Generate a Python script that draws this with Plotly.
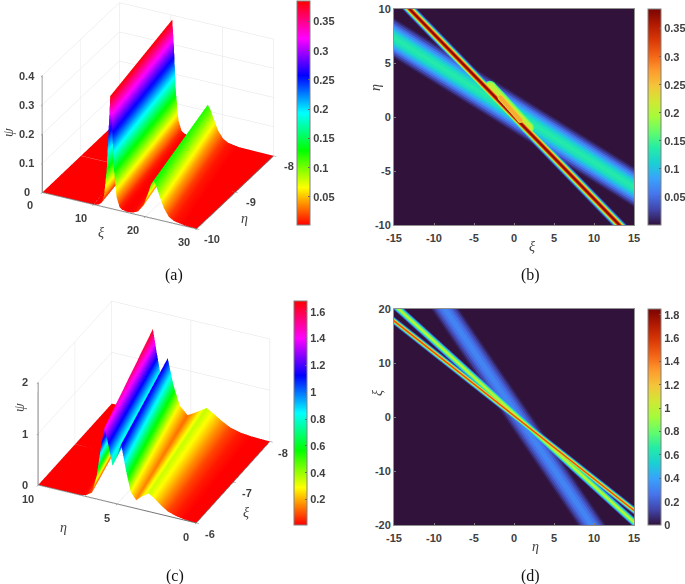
import plotly.graph_objects as go
from plotly.colors import sample_colorscale

W, H = 685, 584

### PANEL (a) surface profiles: psi along xi, read at the front and back edge ###
a_eta = [-10, -8]
a_xi_front = [0, 10, 11, 11.5, 12, 12.5, 12.9, 13.2, 13.5, 13.9, 14.4, 15, 15.5, 16.5, 17.6, 18.6, 19.6, 20.6, 21.1, 21.6, 22.1, 22.6, 23.6, 24.6, 25.6, 27.6, 30]
a_xi_back = [0, 7.1, 8.1, 8.6, 9.1, 9.6, 10, 10.3, 10.6, 11, 11.5, 12.1, 12.6, 13.2, 14, 14.6, 15.2, 16.2, 16.7, 17.2, 17.7, 18.2, 19.2, 20.2, 21.2, 23.2, 30]
a_psi_front = [0, 0, 0.004, 0.012, 0.04, 0.13, 0.28, 0.385, 0.3, 0.14, 0.045, 0.012, 0.005, 0.002, 0.004, 0.012, 0.035, 0.085, 0.115, 0.13, 0.115, 0.09, 0.045, 0.018, 0.008, 0.002, 0]
a_psi_back = [0, 0, 0.004, 0.012, 0.04, 0.13, 0.28, 0.385, 0.3, 0.14, 0.045, 0.012, 0.005, 0.002, 0.004, 0.012, 0.035, 0.08, 0.108, 0.122, 0.108, 0.085, 0.042, 0.018, 0.008, 0.002, 0]

### PANEL (c) surface profiles: psi along eta ###
c_xi = [-6, -8]
c_eta_front = [10, 7.4, 7, 6.6, 6.3, 6.0, 5.8, 5.55, 5.3, 5.05, 4.75, 4.45, 4.15, 3.8, 3.4, 3.0, 2.6, 2.2, 1.8, 1.3, 0.8, 0]
c_eta_back = [10, 9.0, 8.6, 8.2, 7.9, 7.6, 7.4, 7.15, 6.9, 6.7, 6.46, 6.1, 5.7, 5.2, 4.6, 4.0, 3.5, 3.0, 2.5, 1.9, 1.2, 0]
c_psi_front = [0, 0.005, 0.02, 0.1, 0.45, 1.1, 1.43, 1.1, 0.72, 0.9, 1.18, 0.7, 0.3, 0.16, 0.27, 0.35, 0.27, 0.17, 0.09, 0.04, 0.015, 0.002]
c_psi_back = [0, 0.005, 0.02, 0.1, 0.45, 1.2, 1.65, 1.2, 0.78, 0.95, 1.15, 0.65, 0.28, 0.13, 0.24, 0.36, 0.27, 0.17, 0.09, 0.04, 0.015, 0.002]

### tick labels of the 3D panels ###
a_xi_ticks = [0, 10, 20, 30]
a_eta_ticks = [-10, -9, -8]
a_psi_ticks = [0, 0.1, 0.2, 0.3, 0.4]
c_eta_ticks = [10, 5, 0]
c_xi_ticks = [-6, -7, -8]
c_psi_ticks = [0, 1, 2]

### PANEL (b) ridge lines (xi, eta) and cross-section levels ###
b_ridge1_x = [-20, 20]
b_ridge1_y = [15.3, -15.2]
b_ridge1_levels = [0.01, 0.03, 0.06, 0.1, 0.15, 0.2, 0.25, 0.3, 0.34, 0.38]
b_ridge2_x = [-20, 20]
b_ridge2_y = [9.6, -8.8]
b_ridge2_levels = [0.004, 0.015, 0.03, 0.05, 0.07, 0.09, 0.11, 0.125, 0.135]
# the glow where the two ridges meet: wide part under the ridge, short part over its core
b_glow_x = [-3.0, 1.8]
b_glow_y = [2.8, -1.0]
b_glow_levels = [0.15, 0.18, 0.21]
b_core_x = [-1.7, 0.8]
b_core_y = [1.8, -0.3]
b_core_levels = [0.23, 0.265]

### PANEL (d) ridge lines (eta, xi) ###
d_ridge1_x = [-20, 20]
d_ridge1_y = [23.65, -23.15]
d_ridge1_levels = [0.05, 0.2, 0.4, 0.7, 1.0, 1.3, 1.52]
d_ridge2_x = [-20, 20]
d_ridge2_y = [27.5, -26.2]
d_ridge2_levels = [0.05, 0.2, 0.4, 0.6, 0.8, 1.0]
d_ridge3_x = [-13.2, 14.3]
d_ridge3_y = [30, -30]
d_ridge3_levels = [0.02, 0.07, 0.13, 0.2, 0.26, 0.31]

# line widths (px) that go with the levels above
b_ridge1_widths = [11, 10, 9, 8, 7, 6, 5, 4, 3, 1.6]
b_ridge2_widths = [35, 32, 29, 25, 21, 17, 13, 9, 4]
b_glow_widths = [12, 10, 8]
b_core_widths = [5.5, 4]
d_ridge1_widths = [7, 6, 5, 4, 3, 2, 1.2]
d_ridge2_widths = [8, 7, 6, 5, 3.5, 2]
d_ridge3_widths = [24, 21, 18, 14, 10, 5]

RAINBOW = [[0, "#ff0000"], [1 / 6, "#ffff00"], [1 / 3, "#00ff00"], [1 / 2, "#00ffff"],
           [2 / 3, "#0000ff"], [5 / 6, "#ff00ff"], [1, "#ff0000"]]
GRAY = "#404040"
TICKFONT = dict(family="Liberation Sans", size=11, color=GRAY, weight="bold")
B_MAX = 0.385
D_MAX = 1.85

fig = go.Figure()


def px_x(x):
    return x / W


def px_y(y):
    return 1 - y / H


def colorbar(left, top, bottom, tickvals):
    return dict(thickness=13, thicknessmode="pixels", len=bottom - top, lenmode="pixels",
                x=px_x(left), xanchor="left", xpad=0, y=px_y(top), yanchor="top", ypad=0,
                outlinecolor="#808080", outlinewidth=1, tickvals=tickvals, ticktext=[str(t) for t in tickvals],
                ticks="inside", ticklen=2, tickcolor="#606060", tickfont=TICKFONT)


def surface(scene, xs, ys, zs, cmin, cmax, cbar):
    fig.add_trace(go.Surface(
        x=xs, y=ys, z=zs, scene=scene, colorscale=RAINBOW, cmin=cmin, cmax=cmax, colorbar=cbar,
        lighting=dict(ambient=1, diffuse=0, specular=0, roughness=1, fresnel=0),
        hoverinfo="skip",
    ))


def scene_axis(rng, vals):
    return dict(range=rng, tickvals=vals, title=dict(text=""), showticklabels=False,
                showgrid=True, gridcolor="#e4e4e4", gridwidth=1, zeroline=False,
                showline=True, linecolor="#707070", linewidth=2, ticks="outside", ticklen=3, tickcolor="#707070",
                showbackground=False, showspikes=False)


def tick_note(x, y, z, text, dx, dy):
    # 3D tick label, anchored to the scene and pushed off the axis in pixels
    return dict(x=x, y=y, z=z, text=str(text), showarrow=False, xshift=dx, yshift=-dy, font=TICKFONT)


def add_layer(xaxis, yaxis, vmax, v, w, xs, ys, mode="lines"):
    col = sample_colorscale("Turbo", [v / vmax])[0]
    fig.add_trace(go.Scatter(x=xs, y=ys, mode=mode, xaxis=xaxis, yaxis=yaxis,
                             line=dict(color=col, width=w), marker=dict(color=col, size=w),
                             hoverinfo="skip", showlegend=False))


def bands(xaxis, yaxis, vmax, items):
    # paint every level of every ridge from low to high so the highest value stays on top
    layers = []
    for xs, ys, levels, widths, mode in items:
        for v, w in zip(levels, widths):
            layers.append((v, w, xs, ys, mode))
    layers.sort(key=lambda t: t[0])
    for v, w, xs, ys, mode in layers:
        add_layer(xaxis, yaxis, vmax, v, w, xs, ys, mode)


### (a) ###
surface("scene", [a_xi_front, a_xi_back],
        [[a_eta[0]] * len(a_xi_front), [a_eta[1]] * len(a_xi_back)],
        [a_psi_front, a_psi_back], 0.002, B_MAX,
        colorbar(297, 1, 225, [0.05, 0.1, 0.15, 0.2, 0.25, 0.3, 0.35]))

### (c) ###
surface("scene2", [c_eta_front, c_eta_back],
        [[c_xi[0]] * len(c_eta_front), [c_xi[1]] * len(c_eta_back)],
        [c_psi_front, c_psi_back], 0.01, 1.68,
        colorbar(294, 301, 525, [0.2, 0.4, 0.6, 0.8, 1, 1.2, 1.4, 1.6]))

### (b) ###
fig.add_trace(go.Heatmap(x=[-15, 15], y=[-10, 10], z=[[0, 0], [0, 0]], xaxis="x", yaxis="y",
                         colorscale="Turbo", zmin=0, zmax=B_MAX, hoverinfo="skip",
                         colorbar=colorbar(648, 9, 225, [0.05, 0.1, 0.15, 0.2, 0.25, 0.3, 0.35])))
bands("x", "y", B_MAX, [
    (b_ridge1_x, b_ridge1_y, b_ridge1_levels, b_ridge1_widths, "lines"),
    (b_ridge2_x, b_ridge2_y, b_ridge2_levels, b_ridge2_widths, "lines"),
    (b_glow_x, b_glow_y, b_glow_levels, b_glow_widths, "lines+markers"),
])
for v, w in zip(b_core_levels, b_core_widths):
    add_layer("x", "y", B_MAX, v, w, b_core_x, b_core_y, "lines+markers")

### (d) ###
fig.add_trace(go.Heatmap(x=[-15, 15], y=[-20, 20], z=[[0, 0], [0, 0]], xaxis="x2", yaxis="y2",
                         colorscale="Turbo", zmin=0, zmax=D_MAX, hoverinfo="skip",
                         colorbar=colorbar(648, 309, 525, [0, 0.2, 0.4, 0.6, 0.8, 1, 1.2, 1.4, 1.6, 1.8])))
bands("x2", "y2", D_MAX, [
    (d_ridge1_x, d_ridge1_y, d_ridge1_levels, d_ridge1_widths, "lines"),
    (d_ridge2_x, d_ridge2_y, d_ridge2_levels, d_ridge2_widths, "lines"),
    (d_ridge3_x, d_ridge3_y, d_ridge3_levels, d_ridge3_widths, "lines"),
])


def flat_axis(left, right, rng, vals, anchor):
    return dict(domain=[px_x(left), px_x(right)], range=rng, tickvals=vals, ticktext=[str(v) for v in vals],
                ticks="inside", ticklen=2, tickcolor="#808080", showgrid=False, zeroline=False, showline=True,
                mirror=True, linecolor="#909090", linewidth=1, tickfont=TICKFONT, anchor=anchor, automargin=False)


def flat_xaxis(left, right, rng, vals, anchor):
    d = flat_axis(left, right, rng, vals, anchor)
    d["ticklabelstandoff"] = 3
    return d


def flat_yaxis(top, bottom, rng, vals, anchor):
    d = flat_axis(0, 1, rng, vals, anchor)
    d["domain"] = [px_y(bottom), px_y(top)]
    return d


def note(x, y, text, size=14, angle=0, family="Liberation Serif", italic=True):
    fig.add_annotation(x=px_x(x), y=px_y(y), xref="paper", yref="paper", text=f"<i>{text}</i>" if italic else text,
                       showarrow=False, textangle=angle, xanchor="center", yanchor="middle",
                       font=dict(family=family, size=size, color=GRAY if italic else "#111111"))


for x, y, t in [(174, 275, "(a)"), (530, 275, "(b)"), (175, 576, "(c)"), (530, 576, "(d)")]:
    note(x, y, t, size=16, italic=False)
note(9, 133, "ψ", angle=-90)
note(101, 232, "ξ")
note(244, 218, "η")
note(532, 247, "ξ")
note(376, 88, "η", angle=-90)
note(19, 408, "ψ", angle=-90)
note(64, 527, "η")
note(246, 512, "ξ")
note(535, 546, "η")
note(377, 393, "ξ", angle=-90)

a_notes = ([tick_note(v, -10, 0, v, -12, 13) for v in a_xi_ticks]
           + [tick_note(30, v, 0, v, 16, 10) for v in a_eta_ticks]
           + [tick_note(0, -10, v, v, -15, 0) for v in a_psi_ticks])
c_notes = ([tick_note(v, -6, 0, v, -10, 14) for v in c_eta_ticks]
           + [tick_note(0, v, 0, v, 14, 11) for v in c_xi_ticks]
           + [tick_note(10, -6, v, v, -13, 0) for v in c_psi_ticks])

fig.update_layout(
    width=W, height=H, margin=dict(l=0, r=0, t=0, b=0, autoexpand=False), paper_bgcolor="white", plot_bgcolor="white",
    showlegend=False,
    xaxis=flat_xaxis(394, 634, [-15, 15], [-15, -10, -5, 0, 5, 10, 15], "y"),
    yaxis=flat_yaxis(9, 225, [-10, 10], [-10, -5, 0, 5, 10], "x"),
    xaxis2=flat_xaxis(394, 634, [-15, 15], [-15, -10, -5, 0, 5, 10, 15], "y2"),
    yaxis2=flat_yaxis(309, 525, [-20, 20], [-20, -10, 0, 10, 20], "x2"),
    scene=dict(
        domain=dict(x=[px_x(12.5), px_x(302.5)], y=[px_y(250), px_y(0)]),
        xaxis=scene_axis([0, 30], a_xi_ticks),
        yaxis=scene_axis([-10, -8], a_eta_ticks),
        zaxis=scene_axis([0, 0.4], a_psi_ticks),
        aspectmode="manual", aspectratio=dict(x=1.38, y=1.38, z=1.06),
        annotations=a_notes,
        camera=dict(projection=dict(type="orthographic"), eye=dict(x=0.574, y=-1.15, z=0.606), center=dict(x=0, y=0, z=-0.084)),
    ),
    scene2=dict(
        domain=dict(x=[px_x(8.5), px_x(298.5)], y=[px_y(534), px_y(290)]),
        xaxis=scene_axis([10, 0], c_eta_ticks),
        yaxis=scene_axis([-6, -8], c_xi_ticks),
        zaxis=scene_axis([0, 2], c_psi_ticks),
        aspectmode="manual", aspectratio=dict(x=1.43, y=1.43, z=0.98),
        annotations=c_notes,
        camera=dict(projection=dict(type="orthographic"), eye=dict(x=0.46, y=-0.987, z=0.654), center=dict(x=0, y=0, z=0)),
    ),
)

# page margin off so the figure starts at the window corner
fig.write_html("out.html", config={"displayModeBar": False}, post_script="document.body.style.margin = '0';")
